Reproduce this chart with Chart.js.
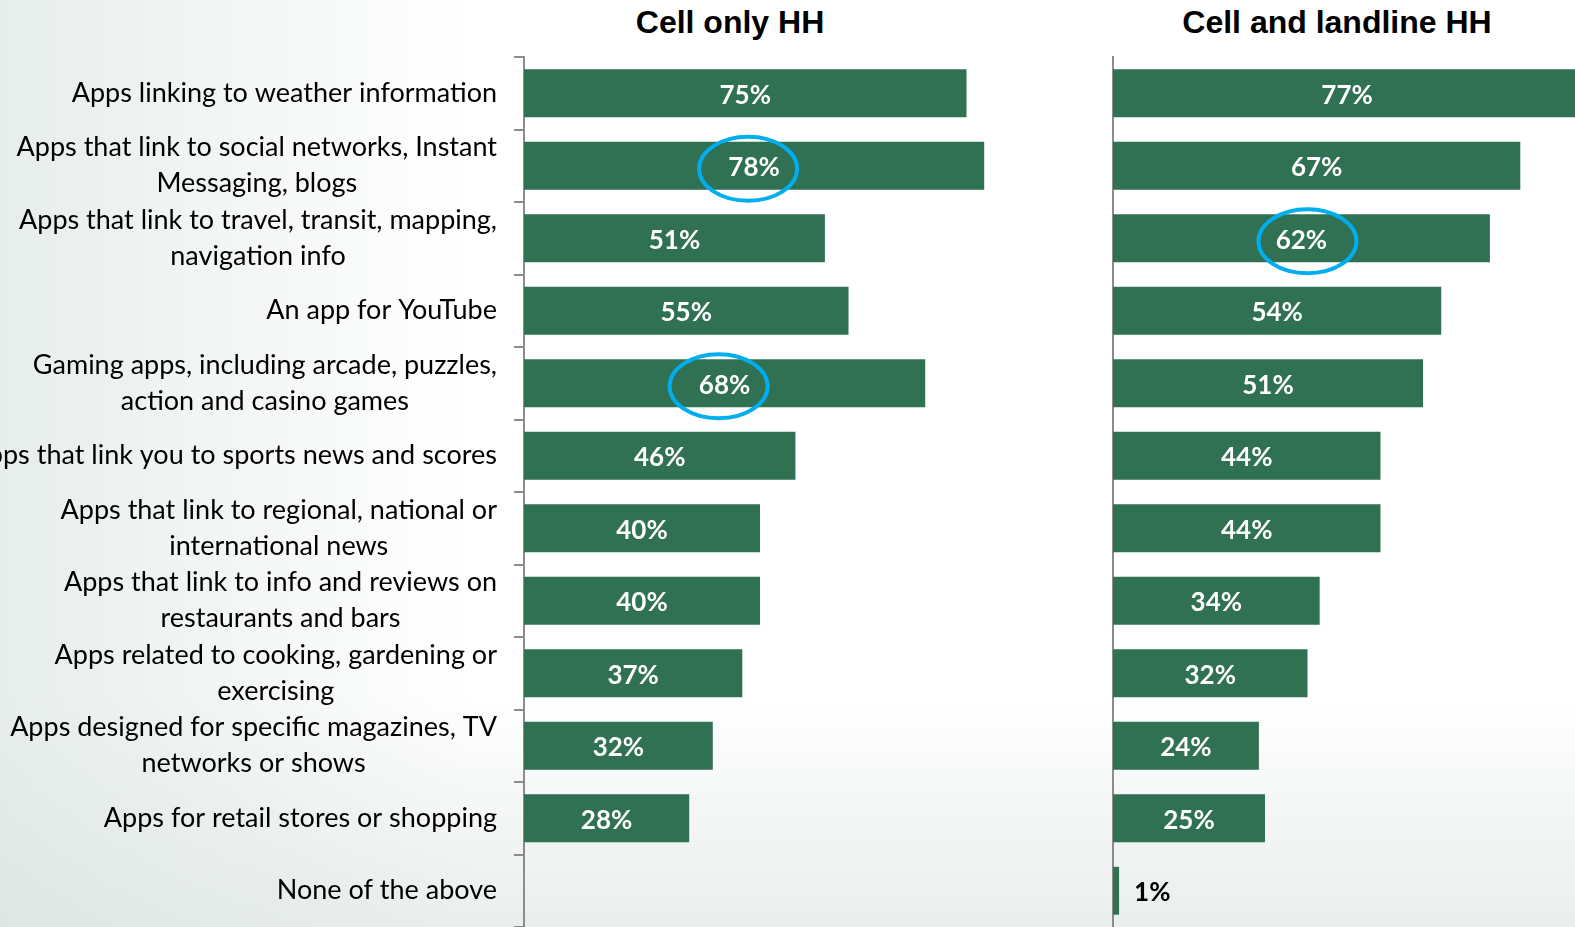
<!DOCTYPE html>
<html>
<head>
<meta charset="utf-8">
<script src="https://cdn.jsdelivr.net/npm/chart.js@4.4.1/dist/chart.umd.min.js"></script>
<style>
  html, body { margin: 0; padding: 0; }
  body {
    width: 1575px; height: 927px; overflow: hidden; position: relative;
    background:
      linear-gradient(to right, rgba(215,226,222,0.6) 0%, rgba(255,255,255,0) 30%),
      linear-gradient(to top, rgba(228,234,232,0.8) 0%, rgba(255,255,255,0) 25%),
      #ffffff;
  }
  .title {
    position: absolute; top: 4px; font: bold 32px "Liberation Sans", Arial, sans-serif;
    color: #000; transform: translateX(-50%); white-space: nowrap;
  }
  #leftWrap { position: absolute; left: 0; top: 0; width: 1055px; height: 927px; }
  #rightWrap { position: absolute; left: 1060px; top: 0; width: 515px; height: 927px; }
</style>
</head>
<body>
<div class="title" style="left:730px">Cell only HH</div>
<div class="title" style="left:1337px">Cell and landline HH</div>
<div id="leftWrap"><canvas id="leftChart"></canvas></div>
<div id="rightWrap"><canvas id="rightChart"></canvas></div>
<script>
const categories = [
  ['Apps linking to weather information'],
  ['Apps that link to social networks, Instant', 'Messaging, blogs'],
  ['Apps that link to travel, transit, mapping,', 'navigation info'],
  ['An app for YouTube'],
  ['Gaming apps, including arcade, puzzles,', 'action and casino games'],
  ['Apps that link you to sports news and scores'],
  ['Apps that link to regional, national or', 'international news'],
  ['Apps that link to info and reviews on', 'restaurants and bars'],
  ['Apps related to cooking, gardening or', 'exercising'],
  ['Apps designed for specific magazines, TV', 'networks or shows'],
  ['Apps for retail stores or shopping'],
  ['None of the above']
]
const cellOnly = [75, 78, 51, 55, 68, 46, 40, 40, 37, 32, 28, null]
const cellLandline = [77, 67, 62, 54, 51, 44, 44, 34, 32, 24, 25, 1]
const cellOnlyCircled = [1, 4]
const cellLandlineCircled = [2]

const green = '#2F7152'

// value labels in the middle of each bar, short bars get it outside in black
const barLabels = {
  id: 'barLabels',
  afterDatasetsDraw(chart) {
    const ctx = chart.ctx
    const meta = chart.getDatasetMeta(0)
    const data = chart.data.datasets[0].data
    ctx.save()
    ctx.font = 'bold 26px Lato'
    ctx.textBaseline = 'middle'
    meta.data.forEach((bar, i) => {
      if (data[i] == null) return
      const txt = data[i] + '%'
      if (data[i] < 5) {
        ctx.fillStyle = '#000'
        ctx.textAlign = 'left'
        ctx.fillText(txt, bar.x + 15, bar.y + 2)
      } else {
        ctx.fillStyle = '#fff'
        ctx.textAlign = 'center'
        ctx.fillText(txt, (bar.x + bar.base) / 2, bar.y + 2)
      }
    })
    ctx.restore()
  }
}

// blue rings around the highlighted values
const rings = {
  id: 'rings',
  afterDraw(chart, args, opts) {
    const ctx = chart.ctx
    const meta = chart.getDatasetMeta(0)
    ctx.save()
    ctx.strokeStyle = '#00AEEF'
    ctx.lineWidth = 4
    opts.items.forEach(i => {
      const bar = meta.data[i]
      ctx.beginPath()
      ctx.ellipse((bar.x + bar.base) / 2 + opts.dx, bar.y + 3, 49, 32, 0, 0, Math.PI * 2)
      ctx.stroke()
    })
    ctx.restore()
  }
}

// category labels: block right aligned, lines centred inside the block
const catLabels = {
  id: 'catLabels',
  afterDraw(chart) {
    const ctx = chart.ctx
    const y = chart.scales.y
    const right = y.right - 27
    ctx.save()
    ctx.font = '27px Lato'
    ctx.fillStyle = '#000'
    ctx.textAlign = 'center'
    ctx.textBaseline = 'middle'
    categories.forEach((lines, i) => {
      const w = Math.max(...lines.map(l => ctx.measureText(l).width))
      const cy = y.getPixelForTick(i)
      const lh = 36
      lines.forEach((l, k) => {
        ctx.fillText(l, right - w / 2, cy + (k - (lines.length - 1) / 2) * lh)
      })
    })
    ctx.restore()
  }
}

function makeChart(id, values, max, axisWidth, withTicks, circled, dx, extra) {
  return new Chart(document.getElementById(id), {
    type: 'bar',
    data: {
      labels: categories.map(c => c.join(' ')),
      datasets: [{
        data: values,
        backgroundColor: green,
        borderWidth: 0,
        barPercentage: 0.66,
        categoryPercentage: 1
      }]
    },
    options: {
      indexAxis: 'y',
      responsive: true,
      maintainAspectRatio: false,
      animation: false,
      layout: { padding: { top: 57, bottom: 0, left: 0, right: 0 } },
      plugins: {
        legend: { display: false },
        tooltip: { enabled: false },
        rings: { items: circled, dx: dx }
      },
      scales: {
        x: { display: false, min: 0, max: max },
        y: {
          afterFit: scale => { scale.width = axisWidth },
          ticks: { display: false },
          grid: {
            display: withTicks,
            drawOnChartArea: false,
            offset: true,
            tickLength: 10,
            color: '#8c8c8c',
            lineWidth: 2
          },
          border: { display: true, color: '#8c8c8c', width: 2 }
        }
      }
    },
    plugins: [barLabels, rings].concat(extra)
  })
}

makeChart('leftChart', cellOnly, 90, 524, true, cellOnlyCircled, -6, [catLabels])
makeChart('rightChart', cellLandline, 76, 53, false, cellLandlineCircled, 6, [])
</script>
</body>
</html>
